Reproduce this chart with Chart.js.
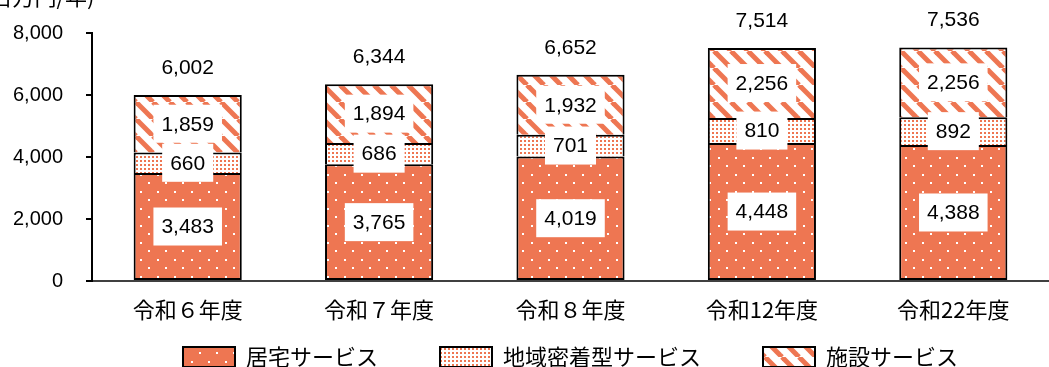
<!DOCTYPE html>
<html lang="ja">
<head>
<meta charset="utf-8">
<script src="https://cdn.jsdelivr.net/npm/chart.js@4.4.1/dist/chart.umd.min.js"></script>
<style>
  html, body { margin: 0; padding: 0; background: #fff; overflow: hidden; }
  #wrap { width: 1049px; height: 367px; }
</style>
</head>
<body>
<div id="wrap"><canvas id="costChart" width="1049" height="367"></canvas></div>
<script>
const years = ['令和６年度', '令和７年度', '令和８年度', '令和12年度', '令和22年度'];
const homeCare = [3483, 3765, 4019, 4448, 4388];
const communityCare = [660, 686, 701, 810, 892];
const facilityCare = [1859, 1894, 1932, 2256, 2256];
const totals = [6002, 6344, 6652, 7514, 7536];
const yTicks = [0, 2000, 4000, 6000, 8000];

const ORANGE = '#EE7652';
const NUM_FONT = '"Liberation Sans", Arial, sans-serif';
const JP_FONT = '"Noto Sans CJK JP", sans-serif';

const canvas = document.getElementById('costChart');
const ctx = canvas.getContext('2d');

function makePattern(w, h, paint) {
    const tile = document.createElement('canvas');
    tile.width = w;
    tile.height = h;
    paint(tile.getContext('2d'));
    return ctx.createPattern(tile, 'repeat');
}

// orange with sparse white dots
const homePattern = makePattern(17, 17, g => {
    g.fillStyle = ORANGE;
    g.fillRect(0, 0, 17, 17);
    g.fillStyle = '#fff';
    g.fillRect(4, 4, 2, 2);
    g.fillRect(12, 12, 2, 2);
});

// white with fine orange dots
const communityPattern = makePattern(4, 4, g => {
    g.fillStyle = '#fff';
    g.fillRect(0, 0, 4, 4);
    g.fillStyle = ORANGE;
    g.fillRect(0, 0, 2, 2);
});

// white with wide diagonal orange stripes
const facilityPattern = makePattern(17, 17, g => {
    g.fillStyle = '#fff';
    g.fillRect(0, 0, 17, 17);
    g.strokeStyle = ORANGE;
    g.lineWidth = 5;
    [-17, 0, 17].forEach(x => {
        g.beginPath();
        g.moveTo(x, 0);
        g.lineTo(x + 17, 17);
        g.stroke();
    });
});

const fmt = v => v.toLocaleString('en-US');

const labelPlugin = {
    id: 'barLabels',
    beforeDraw(chart) {
        // centre the legend over the plot area, just under the category labels
        const lg = chart.legend;
        const h = lg.height;
        lg.left = chart.chartArea.left;
        lg.right = chart.chartArea.right;
        lg.top = 357 - 62 - 11;
        lg.bottom = lg.top + h;
    },
    afterDatasetsDraw(chart) {
        const c = chart.ctx;
        c.save();
        c.font = '21px ' + NUM_FONT;
        c.textAlign = 'center';
        c.textBaseline = 'middle';
        chart.data.datasets.forEach((ds, di) => {
            chart.getDatasetMeta(di).data.forEach((bar, i) => {
                const text = fmt(ds.data[i]);
                const cy = (bar.y + bar.base) / 2;
                const w = c.measureText(text).width + 16;
                const h = 38;
                c.fillStyle = '#fff';
                c.fillRect(bar.x - w / 2, cy - h / 2, w, h);
                c.fillStyle = '#000';
                c.fillText(text, bar.x, cy + 1);
            });
        });
        const topMeta = chart.getDatasetMeta(chart.data.datasets.length - 1);
        c.fillStyle = '#000';
        topMeta.data.forEach((bar, i) => {
            c.fillText(fmt(totals[i]), bar.x, bar.y - 27);
        });
        c.restore();
    },
    afterDraw(chart) {
        const c = chart.ctx;
        c.save();
        c.font = '22px ' + JP_FONT;
        c.fillStyle = '#000';
        c.textAlign = 'left';
        c.textBaseline = 'middle';
        c.fillText('(百万円/年)', -17, -3);
        c.restore();
    }
};

const segBorder = { top: 2, right: 2, bottom: 0, left: 2 };

new Chart(ctx, {
    type: 'bar',
    data: {
        labels: years,
        datasets: [{
            label: '居宅サービス',
            data: homeCare,
            backgroundColor: homePattern,
            borderColor: '#000',
            borderWidth: 2,
            borderSkipped: false,
        }, {
            label: '地域密着型サービス',
            data: communityCare,
            backgroundColor: communityPattern,
            borderColor: '#000',
            borderWidth: segBorder,
            borderSkipped: false,
        }, {
            label: '施設サービス',
            data: facilityCare,
            backgroundColor: facilityPattern,
            borderColor: '#000',
            borderWidth: segBorder,
            borderSkipped: false,
        }],
    },
    options: {
        responsive: false,
        devicePixelRatio: 1,
        animation: false,
        categoryPercentage: 1,
        barPercentage: 0.565,
        // legend box is 94px tall (22 item + 62 padding + 10); negative bottom pulls plot floor to y=281
        layout: { padding: { top: 33, left: 0, right: 0, bottom: -68 } },
        plugins: {
            tooltip: { enabled: false },
            legend: {
                position: 'bottom',
                labels: {
                    boxWidth: 52,
                    boxHeight: 20,
                    padding: 62,
                    color: '#000',
                    font: { family: JP_FONT, size: 22 },
                    generateLabels: chart => Chart.defaults.plugins.legend.labels.generateLabels(chart)
                        .map(l => ({ ...l, lineWidth: 2, strokeStyle: '#000' })),
                },
            },
        },
        scales: {
            x: {
                stacked: true,
                grid: { display: false, drawTicks: false },
                border: { color: '#404040', width: 2 },
                ticks: { color: '#000', padding: 15, font: { family: JP_FONT, size: 22 } },
                afterFit: s => {
                    s.height = 60;
                    s.paddingLeft = 0;
                    s.paddingRight = 0;
                },
            },
            y: {
                stacked: true,
                min: 0,
                max: 8000,
                afterBuildTicks: s => { s.ticks = yTicks.map(v => ({ value: v })); },
                grid: { drawOnChartArea: false, drawTicks: true, tickLength: 6, color: '#000', lineWidth: 2 },
                border: { color: '#000', width: 2 },
                ticks: { color: '#000', padding: 23, font: { family: NUM_FONT, size: 20 }, callback: v => fmt(v) },
                afterFit: s => {
                    s.width = 92;
                    s.paddingTop = 0;
                    s.paddingBottom = 0;
                },
            },
        },
    },
    plugins: [labelPlugin],
});
</script>
</body>
</html>
